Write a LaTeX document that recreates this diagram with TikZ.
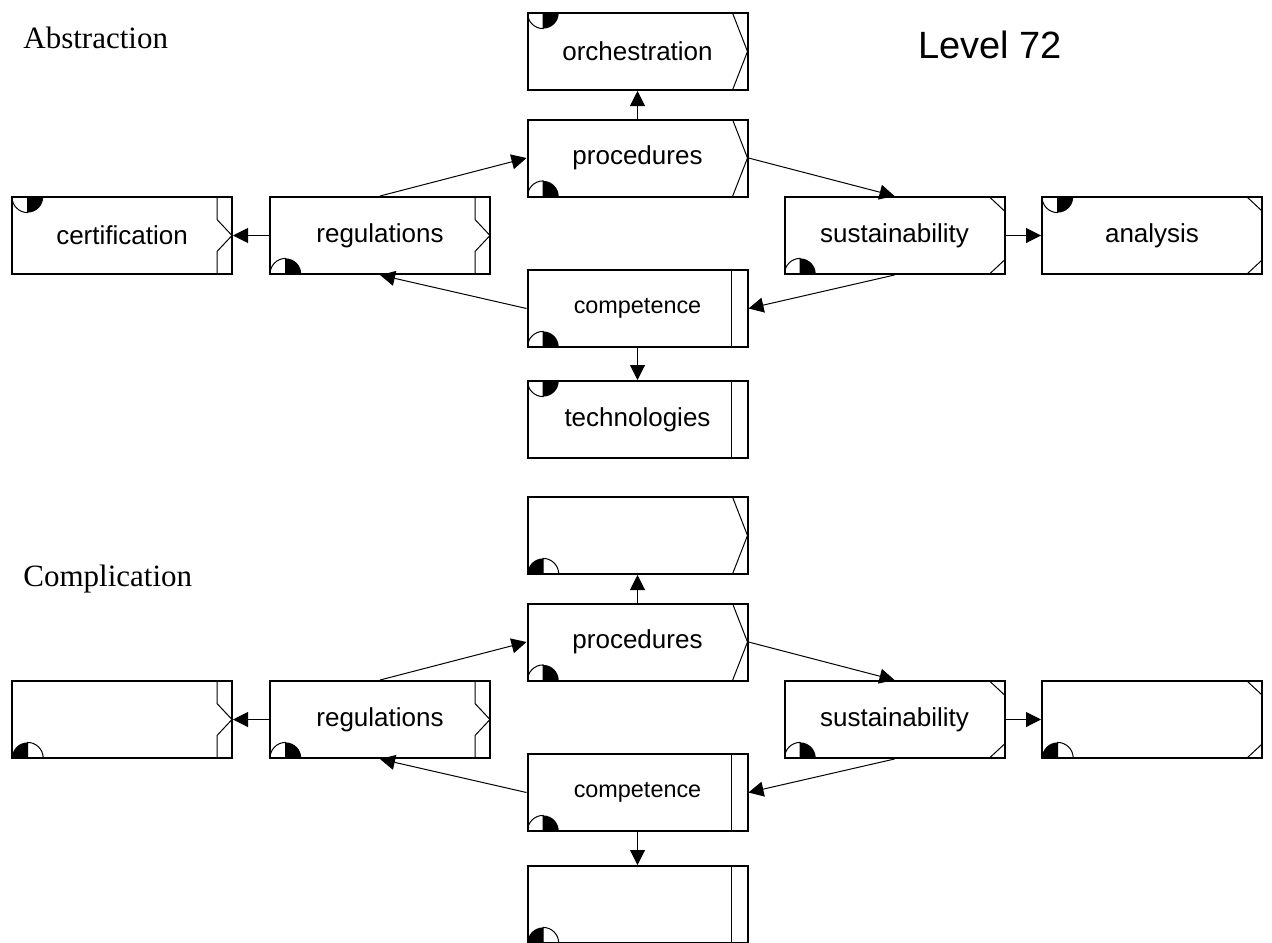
\documentclass[tikz,border=0pt]{standalone}
\usepackage{fontspec}
\setmainfont{Liberation Serif}
\newfontfamily\boxfont{Liberation Sans}
\usetikzlibrary{arrows.meta}

% right-hand edge markings
\newcommand\decoChevron{%
  \draw[deco] ([xshift=-7.5pt]path picture bounding box.north east) -- (path picture bounding box.east)
    -- ([xshift=-7.5pt]path picture bounding box.south east);}
\newcommand\decoNotch{%
  \draw[deco] ([xshift=-7.5pt]path picture bounding box.north east) -- ([xshift=-7.5pt,yshift=8pt]path picture bounding box.east)
    -- (path picture bounding box.east) -- ([xshift=-7.5pt,yshift=-8pt]path picture bounding box.east)
    -- ([xshift=-7.5pt]path picture bounding box.south east);}
\newcommand\decoCut{%
  \draw[deco] ([xshift=-7.5pt]path picture bounding box.north east) -- ([yshift=-7pt]path picture bounding box.north east);
  \draw[deco] ([xshift=-7.5pt]path picture bounding box.south east) -- ([yshift=7pt]path picture bounding box.south east);}
\newcommand\decoBar{%
  \draw[deco] ([xshift=-8pt]path picture bounding box.north east) -- ([xshift=-8pt]path picture bounding box.south east);}

% quarter-disc corner marks
\newcommand\glyphTop{%
  \draw[deco] ([xshift=7.8pt]path picture bounding box.north west) -- ++(-7.8pt,0)
    arc[start angle=180,end angle=270,radius=7.8pt] -- cycle;
  \fill ([xshift=7.8pt]path picture bounding box.north west) -- ++(0,-7.8pt)
    arc[start angle=270,end angle=360,radius=7.8pt] -- cycle;}
\newcommand\glyphBot{%
  \draw[deco] ([xshift=7.8pt]path picture bounding box.south west) -- ++(-7.8pt,0)
    arc[start angle=180,end angle=90,radius=7.8pt] -- cycle;
  \fill ([xshift=7.8pt]path picture bounding box.south west) -- ++(7.8pt,0)
    arc[start angle=0,end angle=90,radius=7.8pt] -- cycle;}
\newcommand\glyphInv{%
  \fill ([xshift=7.8pt]path picture bounding box.south west) -- ++(-7.8pt,0)
    arc[start angle=180,end angle=90,radius=7.8pt] -- cycle;
  \draw[deco] ([xshift=7.8pt]path picture bounding box.south west) -- ++(7.8pt,0)
    arc[start angle=0,end angle=90,radius=7.8pt] -- cycle;}

\tikzset{
  deco/.style={line width=0.5pt},
  blk/.style 2 args={draw, line width=1pt, minimum width=110pt, minimum height=38.5pt,
    inner sep=0pt, font=\boxfont\fontsize{13}{15}\selectfont,
    path picture={\csname deco#1\endcsname\csname glyph#2\endcsname}},
  small/.style={font=\boxfont\fontsize{11.7}{14}\selectfont},
  conn/.style={line width=0.5pt, -{Triangle[length=7.5pt,width=7.5pt]}},
  title/.style={anchor=base west, inner sep=0pt, font=\fontsize{15.5}{18}\selectfont},
}

\begin{document}
\begin{tikzpicture}[x=0.5pt, y=-0.5pt]
\useasboundingbox (0,0) rectangle (1272,942);
\clip (0,0) rectangle (1272,942);

% upper group
\node[title] (abs) at (23,48) {Abstraction};
\node[anchor=base west, inner sep=0pt, font=\boxfont\fontsize{19}{22}\selectfont] (lvl) at (918,58) {Level 72};

\node[blk={Chevron}{Top}] (orch) at (637.5,51.5) {orchestration};
\node[blk={Chevron}{Bot}] (proc) at (637.5,158) {procedures};
\node[blk={Notch}{Top}] (cert) at (122,235.5) {certification};
\node[blk={Notch}{Bot}] (reg) at (380,235.5) {regulations};
\node[blk={Cut}{Bot}] (sust) at (894.5,235.5) {sustainability};
\node[blk={Cut}{Top}] (ana) at (1152,235.5) {analysis};
\node[blk={Bar}{Bot}, small] (comp) at (637.5,308.5) {competence};
\node[blk={Bar}{Top}] (tech) at (637.5,419.5) {technologies};

\draw[conn] (proc) -- (orch);
\draw[conn] (reg.north) -- (proc.west);
\draw[conn] (proc.east) -- (sust.north);
\draw[conn] (sust) -- (ana);
\draw[conn] (reg) -- (cert);
\draw[conn] (sust.south) -- (comp.east);
\draw[conn] (comp.west) -- (reg.south);
\draw[conn] (comp) -- (tech);

% lower group
\node[title] (cpl) at (23,586) {Complication};

\node[blk={Chevron}{Inv}] (orchB) at (637.5,535.5) {};
\node[blk={Chevron}{Bot}] (procB) at (637.5,642) {procedures};
\node[blk={Notch}{Inv}] (certB) at (122,719.5) {};
\node[blk={Notch}{Bot}] (regB) at (380,719.5) {regulations};
\node[blk={Cut}{Bot}] (sustB) at (894.5,719.5) {sustainability};
\node[blk={Cut}{Inv}] (anaB) at (1152,719.5) {};
\node[blk={Bar}{Bot}, small] (compB) at (637.5,792.5) {competence};
\node[blk={Bar}{Inv}] (techB) at (637.5,904.5) {};

\draw[conn] (procB) -- (orchB);
\draw[conn] (regB.north) -- (procB.west);
\draw[conn] (procB.east) -- (sustB.north);
\draw[conn] (sustB) -- (anaB);
\draw[conn] (regB) -- (certB);
\draw[conn] (sustB.south) -- (compB.east);
\draw[conn] (compB.west) -- (regB.south);
\draw[conn] (compB) -- (techB);
\end{tikzpicture}
\end{document}
